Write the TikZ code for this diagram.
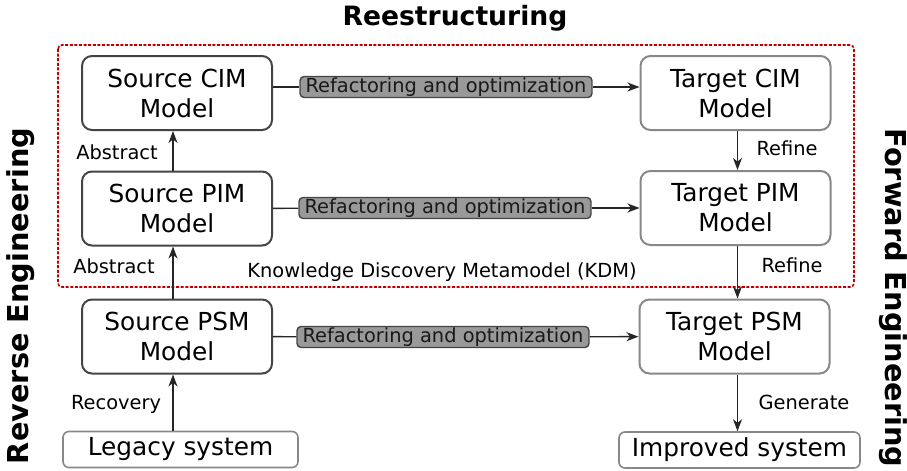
\documentclass[tikz,border=0pt]{standalone}
\usepackage{fontspec}
\setmainfont{DejaVu Sans}
\usepackage{tikz}
\usepackage{xcolor}
\usetikzlibrary{arrows.meta,positioning}

\definecolor{srcgray}{HTML}{444444}
\definecolor{tgtgray}{HTML}{888888}
\definecolor{kdmred}{HTML}{C00000}
\definecolor{reffill}{HTML}{999999}

\tikzset{
  srcbox/.style={draw=srcgray,line width=1pt,rounded corners=5pt,minimum width=95pt,minimum height=37pt,align=center,inner sep=0pt,font=\fontsize{12.4}{15}\selectfont},
  tgtbox/.style={srcbox,draw=tgtgray},
  sysbox/.style={draw=tgtgray,line width=0.8pt,rounded corners=3pt,minimum height=18pt,inner sep=0pt,font=\fontsize{12.4}{15}\selectfont},
  refbox/.style={draw=srcgray,fill=reffill,line width=0.7pt,rounded corners=2pt,minimum height=10.5pt,inner xsep=2.75pt,inner ysep=0pt,text=black!90,font=\fontsize{9.7}{11}\selectfont},
  lbl/.style={inner sep=0pt,font=\fontsize{9.7}{11}\selectfont},
  side/.style={inner sep=0pt,font=\fontsize{14.4}{16}\selectfont\bfseries},
  conn/.style={line width=0.7pt,black!85},
  flow/.style={conn,-{Stealth[length=6pt,width=4.5pt,inset=1.8pt]}}
}

\begin{document}
\begin{tikzpicture}[x=0.5pt,y=-0.5pt]
\useasboundingbox (0,0) rectangle (907,471);

% KDM frame
\draw[kdmred,line width=0.8pt,dash pattern=on 1.5pt off 0.8pt,rounded corners=2pt] (58,45) rectangle (854,287);
\node[lbl] (kdm) at (442,272) {Knowledge Discovery Metamodel (KDM)};

% titles
\node[inner sep=0pt,font=\fontsize{13.3}{15}\selectfont\bfseries] (title) at (455,18) {Reestructuring};
\node[side,rotate=90] (rev) at (21,296) {Reverse Engineering};
\node[side,rotate=-90] (fwd) at (893,298) {Forward Engineering};

% models
\node[srcbox] (scim) at (177,93) {Source CIM\\Model};
\node[srcbox] (spim) at (177,208.5) {Source PIM\\Model};
\node[srcbox] (spsm) at (177,336.5) {Source PSM\\Model};
\node[tgtbox] (tcim) at (735.5,93) {Target CIM\\Model};
\node[tgtbox] (tpim) at (735.5,208) {Target PIM\\Model};
\node[tgtbox] (tpsm) at (734.5,336.5) {Target PSM\\Model};
\node[sysbox,minimum width=117.5pt] (legacy) at (180.5,449.5) {Legacy system};
\node[sysbox,minimum width=120.5pt] (improved) at (739.5,450) {Improved system};

% transformations
\node[refbox] (rcim) at (446,87) {Refactoring and optimization};
\node[refbox] (rpim) at (445,208) {Refactoring and optimization};
\node[refbox] (rpsm) at (443,337) {Refactoring and optimization};
\draw[conn] (scim.east |- rcim) -- (rcim);
\draw[flow] (rcim) -- (tcim.west |- rcim);
\draw[conn] (spim) -- (rpim);
\draw[flow] (rpim) -- (tpim);
\draw[conn] (spsm) -- (rpsm);
\draw[flow] (rpsm) -- (tpsm);

% vertical steps
\draw[flow] ([xshift=-2pt]spsm.south |- legacy.north) -- ([xshift=-2pt]spsm.south);
\draw[flow] ([xshift=-2pt]spsm.north) -- ([xshift=-2pt]spim.south);
\draw[flow] ([xshift=-2pt]spim.north) -- ([xshift=-2pt]scim.south);
\draw[flow] ([xshift=1pt]tcim.south) -- ([xshift=1pt]tcim.south |- tpim.north);
\draw[flow] ([xshift=1pt]tpim.south) -- ([xshift=1pt]tpim.south |- tpsm.north);
\draw[flow] ([xshift=1pt]tpim.south |- tpsm.south) -- ([xshift=1pt]tpim.south |- improved.north);

\node[lbl] (abs1) at (117,152) {Abstract};
\node[lbl] (abs2) at (114,266) {Abstract};
\node[lbl] (rec) at (116,404) {Recovery};
\node[lbl] (ref1) at (787,148) {Refine};
\node[lbl] (ref2) at (792,265) {Refine};
\node[lbl] (gen) at (804,402) {Generate};
\end{tikzpicture}
\end{document}
